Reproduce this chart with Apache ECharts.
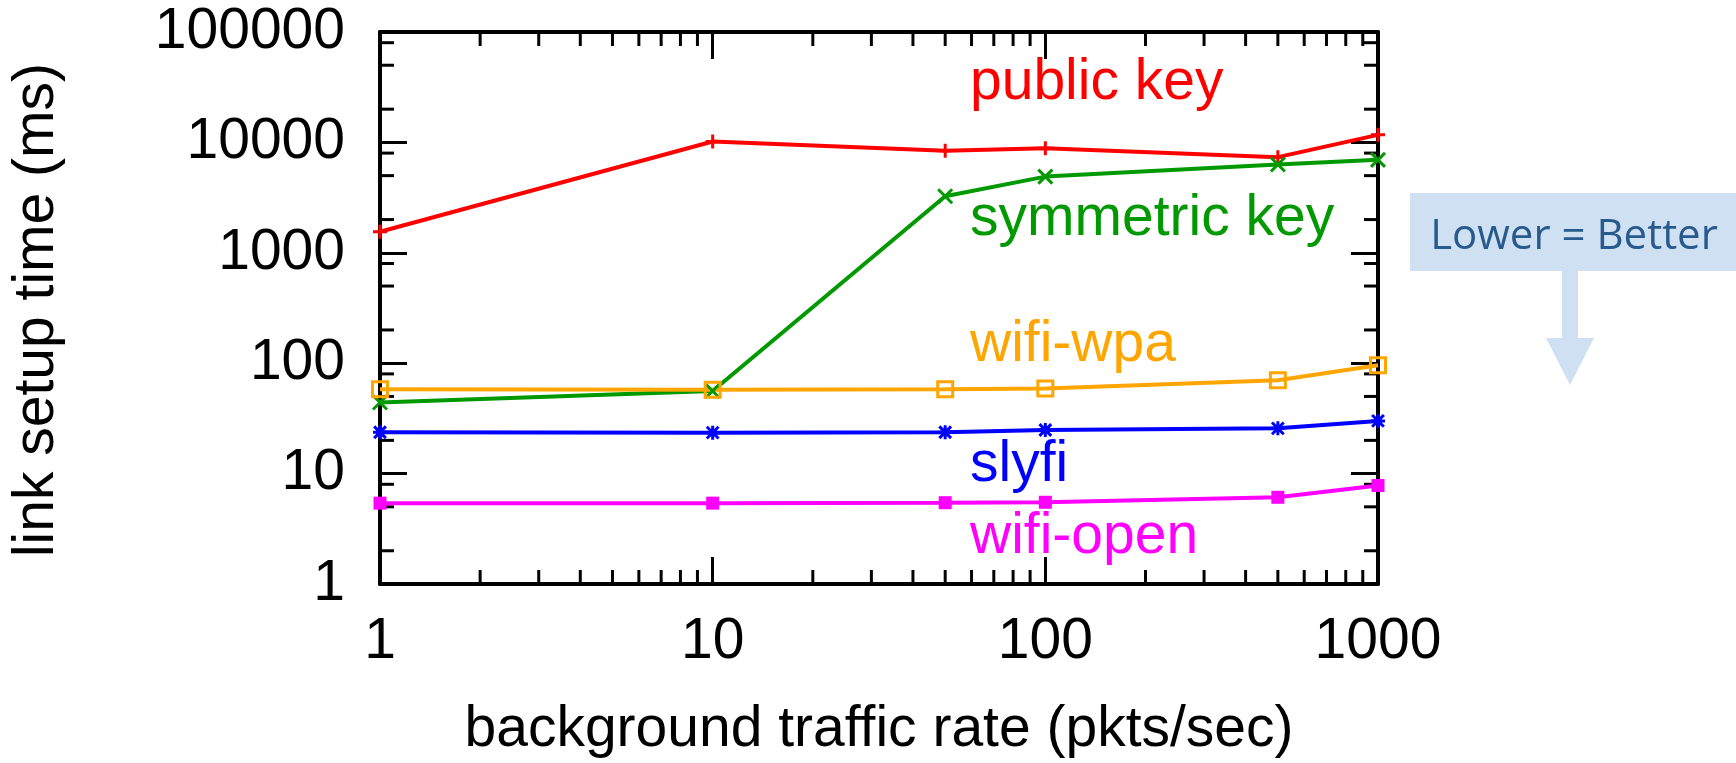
<!DOCTYPE html>
<html>
<head>
<meta charset="utf-8">
<script src="https://cdn.jsdelivr.net/npm/echarts@6/dist/echarts.min.js"></script>
<style>
html,body{margin:0;padding:0;background:#fff;}
#chart{width:1736px;height:763px;}
</style>
</head>
<body>
<div id="chart"></div>
<script>
// ---- data ----
const xValues = [1, 10, 50, 100, 500, 1000];
const publicKey = [1550, 10200, 8400, 8850, 7350, 11700];
const symmetricKey = [44, 56, 3250, 4900, 6300, 6950];
const wifiWpa = [58, 57.5, 58, 59, 70, 96];
const slyfi = [23.7, 23.5, 23.7, 24.8, 25.7, 30];
const wifiOpen = [5.4, 5.4, 5.45, 5.5, 6.1, 7.8];

const xTickLabels = ['1', '10', '100', '1000'];
const yTickLabels = ['1', '10', '100', '1000', '10000', '100000'];
const xMinorMultipliers = [2, 3, 4, 5, 6, 7, 8, 9];
const yMinorMultipliers = [2, 5, 8];
const xDecades = [1, 10, 100];
const yDecades = [1, 10, 100, 1000, 10000];

const seriesNames = ['public key', 'symmetric key', 'wifi-wpa', 'slyfi', 'wifi-open'];
const xTitle = 'background traffic rate (pkts/sec)';
const yTitle = 'link setup time (ms)';
const noteText = 'Lower = Better';

// ---- build ----
const FONT = 'Liberation Sans, Arial, Helvetica, sans-serif';
const FS = 57;
const pair = (ys) => xValues.map((x, i) => [x, ys[i]]);

const minorData = [];
xDecades.forEach(d => xMinorMultipliers.forEach(m => minorData.push([d * m, 1, 0])));
yDecades.forEach(d => yMinorMultipliers.forEach(m => minorData.push([1, d * m, 1])));

const MINOR = 14;
function renderMinor(params, api) {
  const cs = params.coordSys;
  const p = api.coord([api.value(0), api.value(1)]);
  const st = { stroke: '#000', lineWidth: 3 };
  if (api.value(2) === 0) {
    const b = cs.y + cs.height, t = cs.y;
    return { type: 'group', children: [
      { type: 'line', shape: { x1: p[0], y1: b, x2: p[0], y2: b - MINOR }, style: st },
      { type: 'line', shape: { x1: p[0], y1: t, x2: p[0], y2: t + MINOR }, style: st }
    ]};
  } else {
    const l = cs.x, r = cs.x + cs.width;
    return { type: 'group', children: [
      { type: 'line', shape: { x1: l, y1: p[1], x2: l + MINOR, y2: p[1] }, style: st },
      { type: 'line', shape: { x1: r, y1: p[1], x2: r - MINOR, y2: p[1] }, style: st }
    ]};
  }
}

function lineSeries(name, data, color, symbol, size, filled) {
  return {
    name: name, type: 'line', data: pair(data),
    xAxisIndex: 0, yAxisIndex: 0,
    symbol: symbol, symbolSize: size, showSymbol: true,
    lineStyle: { color: color, width: 4 },
    itemStyle: filled ? { color: color, borderWidth: 0 }
                      : { color: 'rgba(0,0,0,0)', borderColor: color, borderWidth: 3 },
    z: 3, clip: false
  };
}

const PLUS = 'path://M5,0 L5,10 M0,5 L10,5';
const CROSS = 'path://M0,0 L10,10 M10,0 L0,10';
const STAR = 'path://M5,0 L5,10 M0,5 L10,5 M0.8,0.8 L9.2,9.2 M9.2,0.8 L0.8,9.2';

const axisLine = { show: true, lineStyle: { color: '#000', width: 4 } };
const majorTick = { show: true, inside: true, length: 27, lineStyle: { color: '#000', width: 3 } };

const option = {
  animation: false,
  backgroundColor: '#fff',
  grid: { left: 380, top: 32, right: 358, bottom: 179, containLabel: false },
  xAxis: [
    { type: 'log', logBase: 10, min: 1, max: 1000, position: 'bottom',
      axisLine: axisLine, axisTick: majorTick, splitLine: { show: false },
      axisLabel: { margin: 30, color: '#000', fontSize: FS, fontFamily: FONT,
        formatter: (v) => xTickLabels[Math.round(Math.log10(v))] } },
    { type: 'log', logBase: 10, min: 1, max: 1000, position: 'top',
      axisLine: axisLine, axisTick: majorTick, splitLine: { show: false },
      axisLabel: { show: false } }
  ],
  yAxis: [
    { type: 'log', logBase: 10, min: 1, max: 100000, position: 'left',
      axisLine: axisLine, axisTick: majorTick, splitLine: { show: false },
      axisLabel: { margin: 35, color: '#000', fontSize: FS, fontFamily: FONT,
        formatter: (v) => yTickLabels[Math.round(Math.log10(v))] } },
    { type: 'log', logBase: 10, min: 1, max: 100000, position: 'right',
      axisLine: axisLine, axisTick: majorTick, splitLine: { show: false },
      axisLabel: { show: false } }
  ],
  series: [
    { type: 'custom', name: 'minor ticks', xAxisIndex: 0, yAxisIndex: 0,
      data: minorData, encode: { x: 0, y: 1 }, renderItem: renderMinor,
      silent: true, z: 1, clip: false },
    lineSeries(seriesNames[0], publicKey, '#ff0000', PLUS, 14, false),
    lineSeries(seriesNames[1], symmetricKey, '#009900', CROSS, 14, false),
    lineSeries(seriesNames[2], wifiWpa, '#ffa500', 'rect', 15, false),
    lineSeries(seriesNames[3], slyfi, '#0000ff', STAR, 14, false),
    lineSeries(seriesNames[4], wifiOpen, '#ff00ff', 'rect', 13, true)
  ],
  graphic: [
    // in-plot series labels
    { type: 'text', x: 970, y: 103 - 20, style: { text: seriesNames[0], fill: '#ff0000', font: FS + 'px ' + FONT, textAlign: 'left', textVerticalAlign: 'middle' } },
    { type: 'text', x: 970, y: 239 - 20, style: { text: seriesNames[1], fill: '#009900', font: FS + 'px ' + FONT, textAlign: 'left', textVerticalAlign: 'middle' } },
    { type: 'text', x: 970, y: 365 - 20, style: { text: seriesNames[2], fill: '#ffa500', font: FS + 'px ' + FONT, textAlign: 'left', textVerticalAlign: 'middle' } },
    { type: 'text', x: 970, y: 485 - 20, style: { text: seriesNames[3], fill: '#0000ff', font: FS + 'px ' + FONT, textAlign: 'left', textVerticalAlign: 'middle' } },
    { type: 'text', x: 970, y: 557 - 20, style: { text: seriesNames[4], fill: '#ff00ff', font: FS + 'px ' + FONT, textAlign: 'left', textVerticalAlign: 'middle' } },
    // axis titles
    { type: 'text', x: 879, y: 750 - 20, style: { text: xTitle, fill: '#000', font: FS + 'px ' + FONT, textAlign: 'center', textVerticalAlign: 'middle' } },
    { type: 'text', x: 37, y: 310, rotation: Math.PI / 2, style: { text: yTitle, fill: '#000', font: FS + 'px ' + FONT, textAlign: 'center', textVerticalAlign: 'middle' } },
    // Lower = Better callout
    { type: 'rect', shape: { x: 1410, y: 193, width: 326, height: 78 }, style: { fill: '#cfe0f2' } },
    { type: 'polygon', shape: { points: [[1562, 270], [1578, 270], [1578, 338], [1594, 338], [1570, 385], [1546, 338], [1562, 338]] }, style: { fill: '#cfe0f2' } },
    { type: 'text', x: 1574, y: 237, style: { text: noteText, fill: '#275a8d', font: '42px "Open Sans", sans-serif', textAlign: 'center', textVerticalAlign: 'middle' } }
  ]
};

const chart = echarts.init(document.getElementById('chart'), null, { renderer: 'canvas' });
chart.setOption(option);
</script>
</body>
</html>
